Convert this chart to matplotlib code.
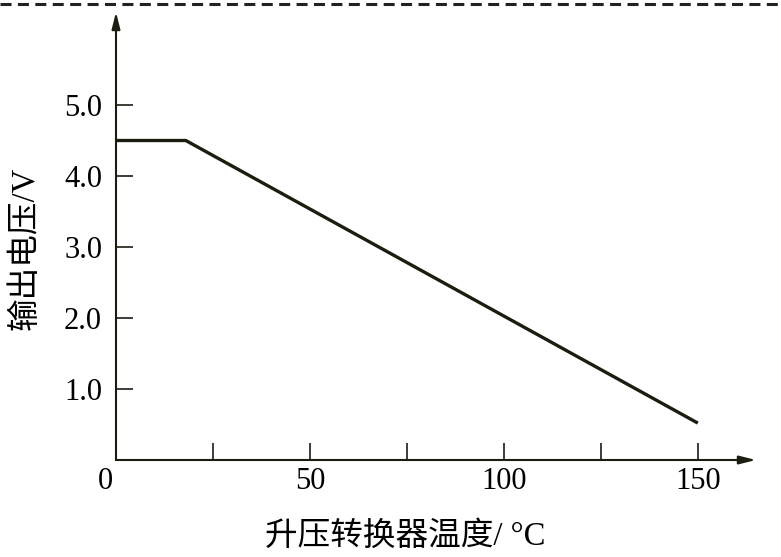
import matplotlib
matplotlib.use("Agg")
import matplotlib.pyplot as plt
from matplotlib.lines import Line2D
import matplotlib.transforms as mtransforms

# data
temp = [0, 18, 150]
volt = [4.5, 4.5, 0.52]
x_major = [0, 50, 100, 150]
x_minor = [25, 75, 125]
y_ticks = [1.0, 2.0, 3.0, 4.0, 5.0]
y_labels = ["1.0", "2.0", "3.0", "4.0", "5.0"]

fonts = ["Liberation Serif", "Noto Sans CJK SC", "DejaVu Sans"]
plt.rcParams["font.family"] = fonts
ink = "#1c1c10"

fig = plt.figure(figsize=(7.81, 5.57), dpi=100)
W, H = 781, 557
ax = fig.add_axes([116 / W, 1 - 460 / H, (756 - 116) / W, (460 - 12) / H])
ax.set_xlim(0, 165)
ax.set_ylim(0, 6.31)

ax.plot(temp, volt, color=ink, lw=2.4, solid_capstyle="butt")

for s in ["top", "right", "left", "bottom"]:
    ax.spines[s].set_visible(False)

# axes with arrows
ax.annotate("", xy=(1, 0), xytext=(0, 0), xycoords="axes fraction",
            arrowprops=dict(arrowstyle="-|>,head_length=1.0,head_width=0.25",
                            color=ink, lw=1.5, shrinkA=0, shrinkB=0))
ax.annotate("", xy=(0, 1), xytext=(0, 0), xycoords="axes fraction",
            arrowprops=dict(arrowstyle="-|>,head_length=1.0,head_width=0.25",
                            color=ink, lw=1.5, shrinkA=0, shrinkB=0))

ax.set_xticks(x_major)
ax.set_xticklabels([str(v) for v in x_major])
ax.set_xticks(x_minor, minor=True)
ax.set_yticks(y_ticks)
ax.set_yticklabels(y_labels)
ax.tick_params(axis="x", which="both", direction="in", length=12, width=1.2,
               color=ink, pad=5, labelsize=22)
ax.tick_params(axis="y", direction="in", length=12, width=1.2, color=ink,
               pad=10, labelsize=22)
for lab in ax.get_xticklabels() + ax.get_yticklabels():
    lab.set_family(fonts)

# nudge the "0" label left like the reference
zero = ax.get_xticklabels()[0]
zero.set_transform(zero.get_transform() +
                   mtransforms.ScaledTranslation(-11 / 100, 0, fig.dpi_scale_trans))

fig.text(25 / W, 1 - 248 / H, "输出电压/V", rotation=90, ha="center", va="center",
         fontsize=23.5, family=fonts)
fig.text(405 / W, 1 - 537 / H, "升压转换器温度/ °C", ha="center", va="center",
         fontsize=23.5, family=fonts)

# dashed border line at the top
fig.add_artist(Line2D([0, 1], [1 - 4 / H, 1 - 4 / H], transform=fig.transFigure,
                      color="#222222", lw=2.2, dashes=(3.6, 2.1)))

fig.savefig("out.png", dpi=100)
